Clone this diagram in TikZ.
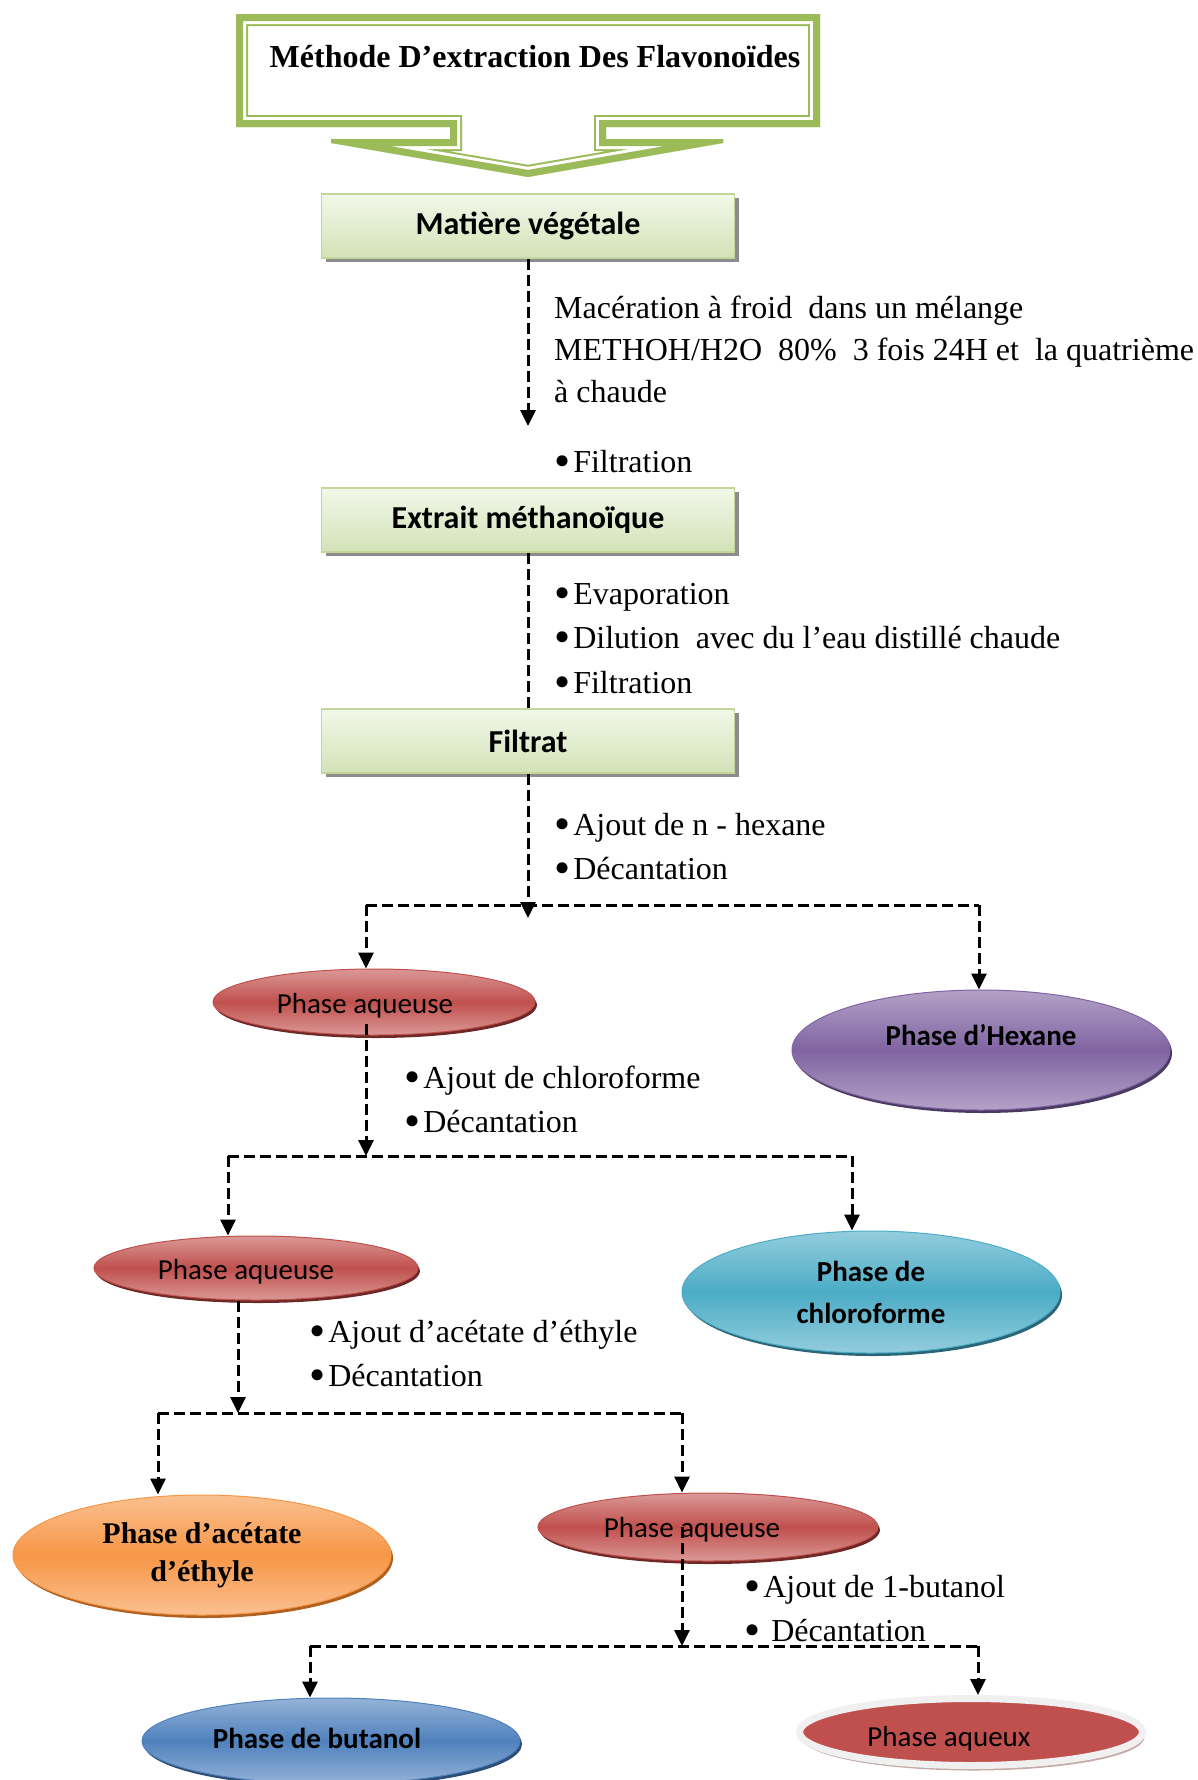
\documentclass[tikz,border=0pt]{standalone}
\usepackage{fontspec}
\setmainfont{Liberation Serif}
\newfontfamily\calibri{Carlito}
\usetikzlibrary{shapes.geometric,shadows,arrows.meta,calc}

\definecolor{boxtop}{HTML}{F2F8E9}
\definecolor{boxbot}{HTML}{D3E2B7}
\definecolor{boxline}{HTML}{C3D69B}
\definecolor{bannergreen}{HTML}{9BBB59}
\definecolor{redmid}{HTML}{C0504D}
\definecolor{redlight}{HTML}{DA9896}
\definecolor{redshade}{HTML}{6E2826}
\definecolor{purplemid}{HTML}{8064A2}
\definecolor{purplelight}{HTML}{B3A2C7}
\definecolor{purpleshade}{HTML}{4B3A60}
\definecolor{tealmid}{HTML}{4BACC6}
\definecolor{teallight}{HTML}{93CDDD}
\definecolor{tealshade}{HTML}{2A6677}
\definecolor{orangemid}{HTML}{F79646}
\definecolor{orangelight}{HTML}{FAC090}
\definecolor{orangeshade}{HTML}{B0601E}
\definecolor{bluemid}{HTML}{4F81BD}
\definecolor{bluelight}{HTML}{95B3D7}
\definecolor{blueshade}{HTML}{2C4D75}
\definecolor{ringgray}{HTML}{F0F0F0}

\newcommand{\puce}{{\fontsize{46}{42}\selectfont\raisebox{-4pt}{•}}\kern3pt}

\tikzstyle{headtext}=[inner sep=0pt, font=\bfseries\fontsize{32}{38}\selectfont]
\tikzstyle{stepbox}=[rectangle, draw=boxline, line width=1.5pt, top color=boxtop, bottom color=boxbot, minimum width=413pt, minimum height=64pt, inner sep=0pt, font=\calibri\bfseries\fontsize{32}{38}\selectfont, drop shadow={shadow xshift=4pt, shadow yshift=-4pt, fill=black!45, opacity=1}]
\tikzstyle{phase}=[ellipse, inner sep=0pt, align=center, line width=1pt, font=\calibri\fontsize{29}{42}\selectfont]
\tikzstyle{redphase}=[phase, draw=redmid, top color=redlight, bottom color=redlight, middle color=redmid, drop shadow={shadow xshift=2pt, shadow yshift=-3pt, fill=redshade, opacity=1}]
\tikzstyle{purplephase}=[phase, draw=purplemid, top color=purplelight, bottom color=purplelight, middle color=purplemid, drop shadow={shadow xshift=2pt, shadow yshift=-3pt, fill=purpleshade, opacity=1}]
\tikzstyle{tealphase}=[phase, draw=tealmid, top color=teallight, bottom color=teallight, middle color=tealmid, drop shadow={shadow xshift=2pt, shadow yshift=-3pt, fill=tealshade, opacity=1}]
\tikzstyle{orangephase}=[phase, draw=orangemid, top color=orangelight, bottom color=orangelight, middle color=orangemid, drop shadow={shadow xshift=2pt, shadow yshift=-3pt, fill=orangeshade, opacity=1}]
\tikzstyle{bluephase}=[phase, draw=bluemid, top color=bluelight, bottom color=bluelight, middle color=bluemid, drop shadow={shadow xshift=2pt, shadow yshift=-3pt, fill=blueshade, opacity=1}]
\tikzstyle{boldphase}=[font=\calibri\bfseries\fontsize{29}{42}\selectfont]
\tikzstyle{note}=[anchor=base west, inner sep=0pt, font=\fontsize{32}{42}\selectfont]
\tikzstyle{dashline}=[draw, line width=3pt, dash pattern=on 11pt off 5pt]
\tikzstyle{dasharrow}=[dashline, -{Triangle[length=16pt,width=15pt]}]

\def\bannerpath{(236,14) -- (820,14) -- (820,127) -- (606,127) -- (606,139) -- (723,139) -- (723,143) -- (528,177) -- (331,143) -- (331,139) -- (450,139) -- (450,127) -- (236,127) -- cycle}

\begin{document}
\begin{tikzpicture}[x=1pt, y=-1pt]

  \useasboundingbox (0,0) rectangle (1197,1780);

  % bandeau du titre
  \begin{scope}
    \clip \bannerpath;
    \fill[white] \bannerpath;
    \draw[bannergreen, line width=24pt] \bannerpath;
    \draw[white, line width=20pt] \bannerpath;
    \draw[bannergreen, line width=14pt] \bannerpath;
  \end{scope}
  \node[headtext] (head) at (535,57) {Méthode D’extraction Des Flavonoïdes};

  % etapes
  \node[stepbox] (mat) at (528,226) {Matière végétale};
  \node[stepbox] (ext) at (528,520) {Extrait méthanoïque};
  \node[stepbox] (filt) at (528,741) {Filtrat};

  % phases
  \node[redphase, minimum width=322pt, minimum height=66pt] (aq1) at (374,1002) {\raisebox{-11pt}[0pt][0pt]{Phase aqueuse}\hspace{18pt}};
  \node[purplephase, boldphase, minimum width=378pt, minimum height=120pt] (hex) at (981,1050) {\raisebox{30pt}{Phase d’Hexane}};
  \node[redphase, minimum width=324pt, minimum height=64pt] (aq2) at (256,1268) {\raisebox{-11pt}[0pt][0pt]{Phase aqueuse}\hspace{20pt}};
  \node[tealphase, boldphase, minimum width=378pt, minimum height=122pt] (chl) at (871,1292) {Phase de\\chloroforme};
  \node[orangephase, font=\bfseries\fontsize{30}{38}\selectfont, minimum width=378pt, minimum height=120pt] (acet) at (202,1555) {Phase d’acétate\\d’éthyle};
  \node[redphase, minimum width=340pt, minimum height=68pt] (aq3) at (708,1527) {\raisebox{-10pt}[0pt][0pt]{Phase aqueuse}\hspace{32pt}};
  \node[bluephase, boldphase, minimum width=378pt, minimum height=86pt] (but) at (331,1741) {\raisebox{6pt}{Phase de butanol}\hspace{28pt}};
  \node[phase, draw=ringgray, line width=7pt, fill=redmid, minimum width=343pt, minimum height=67pt, drop shadow={shadow xshift=2pt, shadow yshift=-5pt, fill=redshade!40, opacity=1}] (aqx) at (971,1732) {\raisebox{-14pt}[0pt][0pt]{Phase aqueux}\hspace{44pt}};

  % textes
  \foreach \y/\txt [count=\i] in {318/{Macération à froid~ dans un mélange}, 360/{METHOH/H2O~ 80\%~ 3 fois 24H et~ la quatrième}, 402/{à chaude}}
    \node[note] (mac\i) at (554,\y) {\txt};
  \node[note] (fil) at (554,472) {\puce Filtration};
  \foreach \y/\txt [count=\i] in {604/Evaporation, 648/{Dilution~ avec du l’eau distillé chaude}, 693/Filtration}
    \node[note] (dil\i) at (554,\y) {\puce\txt};
  \foreach \y/\txt [count=\i] in {835/{Ajout de n - hexane}, 879/Décantation}
    \node[note] (hx\i) at (554,\y) {\puce\txt};
  \foreach \y/\txt [count=\i] in {1088/{Ajout de chloroforme}, 1132/Décantation}
    \node[note] (ch\i) at (404,\y) {\puce\txt};
  \foreach \y/\txt [count=\i] in {1342/{Ajout d’acétate d’éthyle}, 1386/Décantation}
    \node[note] (ac\i) at (309,\y) {\puce\txt};
  \node[note] (bu1) at (744,1597) {\puce Ajout de 1-butanol};
  \node[note] (bu2) at (744,1641) {\puce\ Décantation};

  % liaisons
  \coordinate (m1) at (528,426);
  \coordinate (j1) at (528,905);
  \coordinate (j1l) at (366,905);
  \coordinate (j1r) at (979,905);
  \coordinate (j2) at (366,1156);
  \coordinate (j2l) at (228,1156);
  \coordinate (j2r) at (852,1156);
  \coordinate (j3) at (238,1413);
  \coordinate (j3l) at (158,1413);
  \coordinate (j3r) at (682,1413);
  \coordinate (j4) at (682,1646);
  \coordinate (j4l) at (310,1646);
  \coordinate (j4r) at (978,1646);

  \draw[dasharrow] (mat) -- (m1);
  \draw[dashline] (ext) -- (filt);
  \draw[dasharrow, shorten >=-13pt] (filt) -- (j1);

  \draw[dashline] (j1l) -- (j1r);
  \draw[dasharrow] (j1l) -- (j1l |- aq1.north);
  \draw[dasharrow] (j1r) -- (j1r |- hex.north);

  \draw[dasharrow] ($(aq1.south -| j2)+(0,-12)$) -- (j2);
  \draw[dashline] (j2l) -- (j2r);
  \draw[dasharrow] (j2l) -- (j2l |- aq2.north);
  \draw[dasharrow] (j2r) -- (j2r |- chl.north);

  \draw[dasharrow] (aq2.south -| j3) -- (j3);
  \draw[dashline] (j3l) -- (j3r);
  \draw[dasharrow] (j3l) -- (j3l |- acet.north);
  \draw[dasharrow] (j3r) -- (j3r |- aq3.north);

  \draw[dasharrow] (aq3.center -| j4) -- (j4);
  \draw[dashline] (j4l) -- (j4r);
  \draw[dasharrow] (j4l) -- (j4l |- but.north);
  \draw[dasharrow] (j4r) -- (j4r |- aqx.north);

\end{tikzpicture}
\end{document}
